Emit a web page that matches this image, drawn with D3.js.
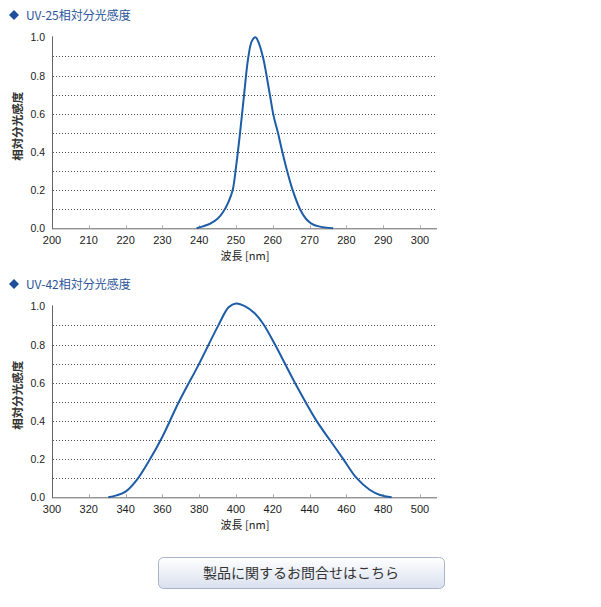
<!DOCTYPE html>
<html><head><meta charset="utf-8">
<script src="https://cdn.jsdelivr.net/npm/d3@7"></script>
<style>
html,body{margin:0;padding:0;background:#fff;}
svg{display:block;}
</style></head>
<body>
<script>
// ---- data ----
const title1 = "UV-25相対分光感度";
const title2 = "UV-42相対分光感度";
const yTitle = "相対分光感度";
const xTitle = "波長 [nm]";
const buttonText = "製品に関するお問合せはこちら";

const yTicks = [0.0, 0.2, 0.4, 0.6, 0.8, 1.0];
const gridVals = [0.1, 0.2, 0.3, 0.4, 0.5, 0.6, 0.7, 0.8, 0.9];

const xTicks1 = [200, 210, 220, 230, 240, 250, 260, 270, 280, 290, 300];
const wl1 = [239.3, 241, 243, 245, 246.5, 248, 249.1, 250, 251.1, 252.2, 253.3, 254.3, 255.3, 256.2, 257.4, 258.3, 259.2, 260.2, 261.4, 262.6, 263.9, 265.4, 267.4, 269, 270.5, 272.5, 276.4];
const val1 = [0.0, 0.01, 0.025, 0.05, 0.085, 0.14, 0.2, 0.32, 0.5, 0.7, 0.89, 0.98, 1.0, 0.97, 0.89, 0.8, 0.7, 0.59, 0.5, 0.4, 0.3, 0.2, 0.1, 0.05, 0.025, 0.01, 0.0];

const xTicks2 = [300, 320, 340, 360, 380, 400, 420, 440, 460, 480, 500];
const wl2 = [330.6, 335, 340, 346, 353.3, 360, 369, 380, 390.4, 396, 400, 405, 410, 415, 421.2, 432, 443.8, 451, 458.3, 465.6, 472.8, 478.3, 484.6];
const val2 = [0.0, 0.01, 0.03, 0.09, 0.2, 0.317, 0.5, 0.7, 0.9, 0.995, 1.015, 1.0, 0.965, 0.905, 0.8, 0.6, 0.4, 0.3, 0.2, 0.1, 0.038, 0.012, 0.0];

// ---- layout ----
const W = 601, H = 607;
const svg = d3.select("body").append("svg").attr("width", W).attr("height", H);
const font = "'Noto Sans CJK JP', 'Noto Sans', sans-serif";
const plotLeft = 52, plotRight = 437;
const lineColor = "#1d5ca6";

function drawChart(title, titleY, yBottom, xTicks, wl, vals) {
  const g = svg.append("g");
  const dy = titleY;
  g.append("path")
    .attr("d", `M${14},${dy-5} L${19},${dy} L${14},${dy+5} L${9},${dy} Z`)
    .attr("fill", "#1f4f9a");
  g.append("text").attr("x", 26).attr("y", dy + 4.5)
    .attr("font-family", font).attr("font-size", 12)
    .attr("fill", "#2a5599").text(title);

  const x = d3.scaleLinear().domain([xTicks[0], xTicks[xTicks.length - 1]]).range([plotLeft, 420]);
  const y = d3.scaleLinear().domain([0, 1]).range([yBottom, yBottom - 191]);

  g.selectAll(".grid").data(gridVals).enter().append("line")
    .attr("x1", plotLeft + 1).attr("x2", plotRight)
    .attr("y1", d => Math.round(y(d)) + 0.5).attr("y2", d => Math.round(y(d)) + 0.5)
    .attr("stroke", "#555").attr("stroke-width", 1).attr("stroke-dasharray", "1,2");

  g.append("line").attr("x1", plotLeft + 0.5).attr("x2", plotLeft + 0.5)
    .attr("y1", y(1) - 1).attr("y2", yBottom + 0.5).attr("stroke", "#666");
  g.append("line").attr("x1", plotLeft).attr("x2", plotRight)
    .attr("y1", yBottom + 0.5).attr("y2", yBottom + 0.5).attr("stroke", "#666");

  g.selectAll(".xt").data(xTicks.slice(1)).enter().append("line")
    .attr("x1", d => Math.round(x(d)) + 0.5).attr("x2", d => Math.round(x(d)) + 0.5)
    .attr("y1", yBottom - 3).attr("y2", yBottom).attr("stroke", "#aaa");

  g.selectAll(".xl").data(xTicks).enter().append("text")
    .attr("x", d => x(d)).attr("y", yBottom + 16)
    .attr("text-anchor", "middle").attr("font-family", "'Liberation Sans', Arial, sans-serif")
    .attr("font-size", 11).attr("fill", "#222").text(d => d);

  g.selectAll(".yl").data(yTicks).enter().append("text")
    .attr("x", 45).attr("y", d => y(d) + 4)
    .attr("text-anchor", "end").attr("font-family", "'Liberation Sans', Arial, sans-serif")
    .attr("font-size", 10.5).attr("fill", "#222").text(d => d.toFixed(1));

  g.append("text")
    .attr("transform", `translate(22,${yBottom - 102}) rotate(-90)`)
    .attr("text-anchor", "middle").attr("font-family", font)
    .attr("font-size", 11.5).attr("font-weight", "bold").attr("fill", "#333").text(yTitle);

  g.append("text").attr("x", 245).attr("y", yBottom + 32)
    .attr("text-anchor", "middle").attr("font-family", font)
    .attr("font-size", 11).attr("fill", "#222").text(xTitle);

  const pts = wl.map((w, i) => [w, vals[i]]);
  const line = d3.line().x(d => x(d[0])).y(d => y(Math.max(0, d[1]))).curve(d3.curveCatmullRom.alpha(0.5));
  g.append("path").datum(pts).attr("d", line)
    .attr("fill", "none").attr("stroke", lineColor).attr("stroke-width", 2);
}

drawChart(title1, 15, 228.3, xTicks1, wl1, val1);
drawChart(title2, 284, 497.3, xTicks2, wl2, val2);

const defs = svg.append("defs");
const grad = defs.append("linearGradient").attr("id", "btn").attr("x1", 0).attr("y1", 0).attr("x2", 0).attr("y2", 1);
grad.append("stop").attr("offset", "0%").attr("stop-color", "#ffffff");
grad.append("stop").attr("offset", "100%").attr("stop-color", "#d9e0ee");
svg.append("rect").attr("x", 158.5).attr("y", 557.5).attr("width", 286).attr("height", 31)
  .attr("rx", 5).attr("fill", "url(#btn)").attr("stroke", "#a9b4cc");
svg.append("text").attr("x", 301).attr("y", 578).attr("text-anchor", "middle")
  .attr("font-family", font).attr("font-size", 14).attr("fill", "#333").text(buttonText);
</script>
</body></html>
